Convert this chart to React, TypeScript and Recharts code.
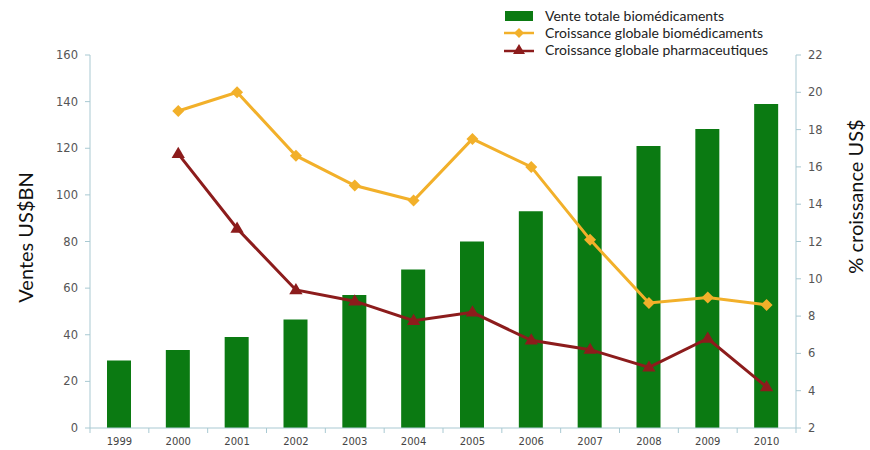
import { ComposedChart, Bar, Line, XAxis, YAxis } from 'recharts';

const years = ['1999', '2000', '2001', '2002', '2003', '2004', '2005', '2006', '2007', '2008', '2009', '2010'];
const ventes = [29, 33.5, 39, 46.5, 57, 68, 80, 93, 108, 121, 128.3, 139];
const croissanceBio = [null, 19, 20, 16.6, 15, 14.2, 17.5, 16, 12.1, 8.7, 9, 8.6];
const croissancePharma = [null, 16.7, 12.7, 9.4, 8.8, 7.75, 8.2, 6.7, 6.2, 5.25, 6.8, 4.2];
const leftTicks = [0, 20, 40, 60, 80, 100, 120, 140, 160];
const rightTicks = [2, 4, 6, 8, 10, 12, 14, 16, 18, 20, 22];

const GREEN = '#0b7a12';
const ORANGE = '#f2b02a';
const RED = '#8c1c1c';
const AXIS = '#a9c9d2';
const TICK_FONT = '"DejaVu Sans", Verdana, sans-serif';
const LABEL_FONT = 'Lato, "Open Sans", sans-serif';

const data = years.map((year, i) => ({
  year,
  ventes: ventes[i],
  bio: croissanceBio[i],
  pharma: croissancePharma[i],
}));

const Diamond = (props: any) => {
  const { cx, cy } = props;
  if (cx == null || cy == null || props.value == null) return null;
  const r = 6;
  return (
    <path
      key={props.index}
      d={`M${cx},${cy - r}L${cx + r},${cy}L${cx},${cy + r}L${cx - r},${cy}Z`}
      fill={ORANGE}
    />
  );
};

const Triangle = (props: any) => {
  const { cx, cy } = props;
  if (cx == null || cy == null || props.value == null) return null;
  const r = 7;
  return (
    <path
      key={props.index}
      d={`M${cx},${cy - r}L${cx + r * 0.95},${cy + r * 0.6}L${cx - r * 0.95},${cy + r * 0.6}Z`}
      fill={RED}
    />
  );
};

// x ticks sit between the categories, so draw the mark half a band to the left
const XTick = (props: any) => {
  const { x, y, payload, index } = props;
  const band = 706 / years.length;
  return (
    <g>
      <line x1={x - band / 2} y1={y - 8} x2={x - band / 2} y2={y - 3} stroke={AXIS} />
      {index === years.length - 1 && (
        <line x1={x + band / 2} y1={y - 8} x2={x + band / 2} y2={y - 3} stroke={AXIS} />
      )}
      <text x={x} y={y + 9} textAnchor="middle" fontSize={10} fontFamily={TICK_FONT} fill="#444">
        {payload.value}
      </text>
    </g>
  );
};

// rotated axis title, placed relative to the axis box
const AxisTitle = (props: any) => {
  const { viewBox, value, dx, dy } = props;
  const x = viewBox.x + dx;
  const y = viewBox.y + viewBox.height / 2 + dy;
  return (
    <text
      x={x}
      y={y}
      transform={`rotate(-90 ${x} ${y})`}
      textAnchor="middle"
      dominantBaseline="central"
      fontSize={20}
      fontFamily={LABEL_FONT}
      fill="#111"
    >
      {value}
    </text>
  );
};

function LegendBox() {
  const rows = [
    { label: 'Vente totale biomédicaments', type: 'bar' },
    { label: 'Croissance globale biomédicaments', type: 'diamond' },
    { label: 'Croissance globale pharmaceutiques', type: 'triangle' },
  ];
  return (
    <div style={{ position: 'absolute', left: 503, top: 7, fontFamily: LABEL_FONT, fontSize: 14, color: '#222' }}>
      {rows.map((r) => (
        <div key={r.label} style={{ display: 'flex', alignItems: 'center', height: 17 }}>
          <svg width={32} height={14} style={{ marginRight: 10 }}>
            {r.type === 'bar' && <rect x={2} y={2} width={28} height={10} fill={GREEN} />}
            {r.type === 'diamond' && (
              <g>
                <line x1={1} y1={7} x2={31} y2={7} stroke={ORANGE} strokeWidth={2.5} />
                <path d="M16,2L21,7L16,12L11,7Z" fill={ORANGE} />
              </g>
            )}
            {r.type === 'triangle' && (
              <g>
                <line x1={1} y1={8} x2={31} y2={8} stroke={RED} strokeWidth={2.5} />
                <path d="M16,1L22,11L10,11Z" fill={RED} />
              </g>
            )}
          </svg>
          <span>{r.label}</span>
        </div>
      ))}
    </div>
  );
}

export default function App() {
  return (
    <div style={{ position: 'absolute', left: 0, top: 0, width: 870, height: 450, background: '#fff' }}>
      <ComposedChart
        width={870}
        height={450}
        data={data}
        margin={{ top: 55, right: 0, bottom: 0, left: 0 }}
        barCategoryGap={0}
      >
        <XAxis
          dataKey="year"
          height={22}
          stroke={AXIS}
          tickLine={false}
          tick={<XTick />}
          interval={0}
        />
        <YAxis
          yAxisId="left"
          width={90}
          domain={[0, 160]}
          ticks={leftTicks}
          stroke={AXIS}
          tickSize={5}
          tickMargin={7}
          tick={{ fontSize: 11.5, fontFamily: TICK_FONT, fill: '#555' }}
          label={<AxisTitle value="Ventes  US$BN" dx={25} dy={-4} />}
        />
        <YAxis
          yAxisId="right"
          orientation="right"
          width={74}
          domain={[2, 22]}
          ticks={rightTicks}
          stroke={AXIS}
          tickSize={5}
          tickMargin={7}
          tick={{ fontSize: 11.5, fontFamily: TICK_FONT, fill: '#555' }}
          label={<AxisTitle value="% croissance US$" dx={59} dy={-45} />}
        />
        <Bar yAxisId="left" dataKey="ventes" fill={GREEN} barSize={24} isAnimationActive={false} />
        <Line
          yAxisId="right"
          dataKey="bio"
          stroke={ORANGE}
          strokeWidth={3}
          dot={<Diamond />}
          activeDot={false}
          isAnimationActive={false}
        />
        <Line
          yAxisId="right"
          dataKey="pharma"
          stroke={RED}
          strokeWidth={3}
          dot={<Triangle />}
          activeDot={false}
          isAnimationActive={false}
        />
      </ComposedChart>
      <LegendBox />
    </div>
  );
}
